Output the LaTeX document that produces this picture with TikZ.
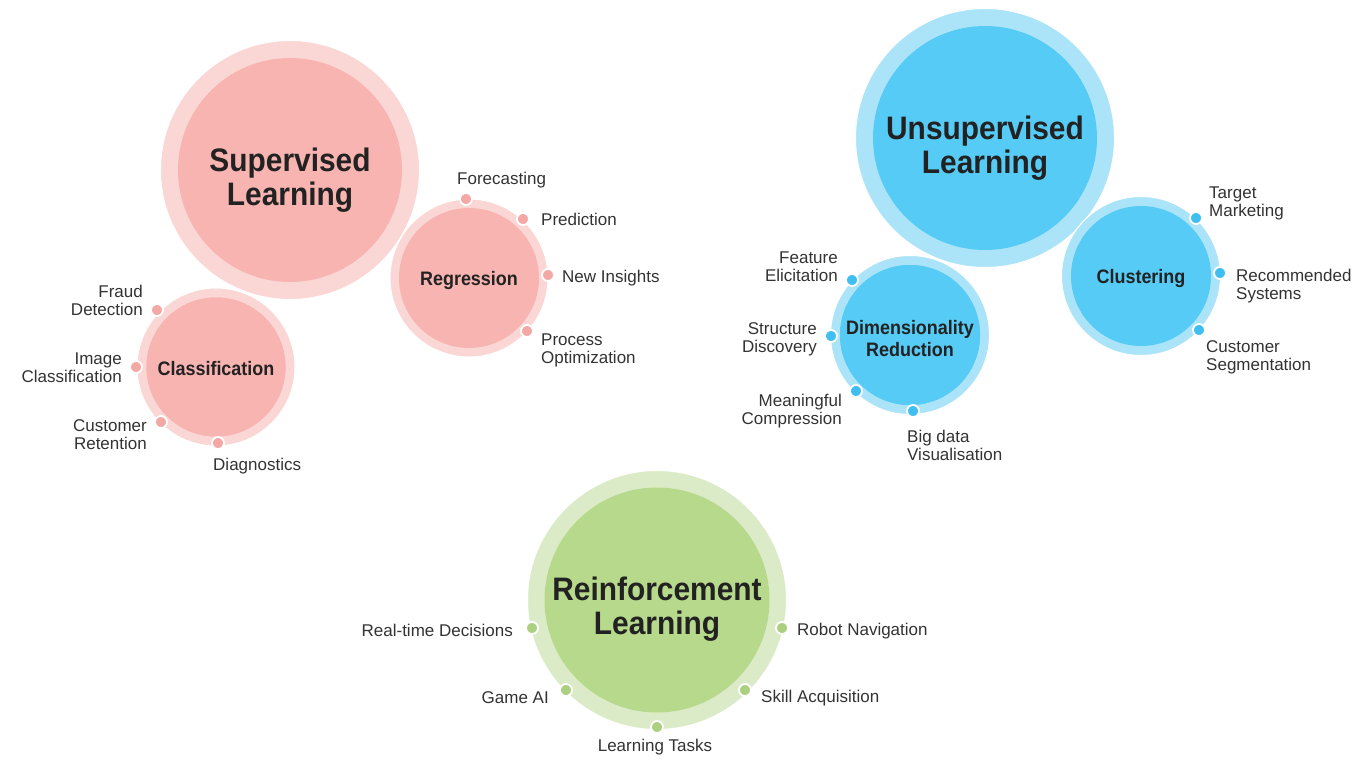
\documentclass[tikz,border=0pt]{standalone}
\usepackage{fontspec}
\setmainfont{Liberation Sans}
\newfontfamily\bigfont{Liberation Sans}[FakeStretch=0.92]
\newfontfamily\midfont{Liberation Sans}[FakeStretch=0.92]
\definecolor{pinkin}{HTML}{F7B4B0}
\definecolor{pinkout}{HTML}{FAD6D4}
\definecolor{pinkdot}{HTML}{F4A8A6}
\definecolor{bluein}{HTML}{56CBF5}
\definecolor{blueout}{HTML}{ABE4F8}
\definecolor{bluedot}{HTML}{3FBEF1}
\definecolor{greenin}{HTML}{B7D98B}
\definecolor{greenout}{HTML}{DCEBC7}
\definecolor{greendot}{HTML}{ABD07F}
\definecolor{txt}{HTML}{333333}
\definecolor{ttl}{HTML}{222222}
\tikzset{
  disc/.style={circle, inner sep=0pt, minimum size=#1},
  ring/.style={circle, inner sep=0pt, minimum size=#1, draw=white, line width=1pt},
  dotc/.style={circle, inner sep=0pt, minimum size=12pt, draw=white, line width=1.8pt, fill=#1},
  lbl/.style={inner sep=0pt, text=txt, font=\fontsize{17}{18}\selectfont},
  bigt/.style={inner sep=0pt, text=ttl, align=center, font=\bigfont\bfseries\fontsize{32.5}{33.5}\selectfont},
  midt/.style={inner sep=0pt, text=ttl, align=center, font=\midfont\bfseries\fontsize{19.5}{22}\selectfont},
}
\begin{document}
\begin{tikzpicture}[x=1pt,y=-1pt]
\fill[white] (0,0) rectangle (1372,762);
\useasboundingbox (0,0) rectangle (1372,762);

% ---------- Supervised ----------
\node[ring=158pt, fill=pinkout] (claO) at (216,367) {};
\node[disc=139pt, fill=pinkin] (claI) at (216,367) {};

\node[ring=259pt, fill=pinkout] (supO) at (290,170) {};
\node[disc=224pt, fill=pinkin] (supI) at (290,170) {};
\node[bigt] (supT) at (290,180) {Supervised\\Learning};

\node[ring=158pt, fill=pinkout] (regO) at (469,278) {};
\node[disc=140pt, fill=pinkin] (regI) at (469,278) {};
\node[midt] (regT) at (469,280) {Regression};

\fill[pinkin] (claI.center) circle[radius=69.5pt];
\node[midt] (claT) at (216,369) {Classification};

\node[dotc=pinkdot] (d1) at (466,199) {};
\node[dotc=pinkdot] (d2) at (523,219) {};
\node[dotc=pinkdot] (d3) at (548,275) {};
\node[dotc=pinkdot] (d4) at (527,331) {};
\node[dotc=pinkdot] (d5) at (157,310) {};
\node[dotc=pinkdot] (d6) at (136,367) {};
\node[dotc=pinkdot] (d7) at (161,422) {};
\node[dotc=pinkdot] (d8) at (218,443) {};

\node[lbl, anchor=west] (l1) at (457,180) {Forecasting};
\node[lbl, anchor=west] (l2) at (541,219) {Prediction};
\node[lbl, anchor=west] (l3) at (562,278) {New Insights};
\node[lbl, anchor=west, align=left] (l4) at (541,350) {Process\\Optimization};
\node[lbl, anchor=east, align=right] (l5) at (143,300) {Fraud\\Detection};
\node[lbl, anchor=east, align=right] (l6) at (122,368) {Image\\Classification};
\node[lbl, anchor=east, align=right] (l7) at (147,435) {Customer\\Retention};
\node[lbl, anchor=west] (l8) at (213,466) {Diagnostics};

% ---------- Unsupervised ----------
\node[ring=159pt, fill=blueout] (dimO) at (910,335) {};
\node[disc=140pt, fill=bluein] (dimI) at (910,335) {};

\node[ring=259pt, fill=blueout] (unsO) at (985,138) {};
\node[disc=224pt, fill=bluein] (unsI) at (985,138) {};
\node[bigt] (unsT) at (985,148) {Unsupervised\\Learning};

\node[ring=159pt, fill=blueout] (cluO) at (1141,276) {};
\node[disc=140pt, fill=bluein] (cluI) at (1141,276) {};
\node[midt] (cluT) at (1141,278) {Clustering};

\fill[bluein] (dimI.center) circle[radius=70pt];
\node[midt] (dimT) at (910,339) {Dimensionality\\Reduction};

\node[dotc=bluedot] (b1) at (852,280) {};
\node[dotc=bluedot] (b2) at (831,336) {};
\node[dotc=bluedot] (b3) at (856,391) {};
\node[dotc=bluedot] (b4) at (913,411) {};
\node[dotc=bluedot] (b5) at (1196,218) {};
\node[dotc=bluedot] (b6) at (1220,273) {};
\node[dotc=bluedot] (b7) at (1199,330) {};

\node[lbl, anchor=east, align=right] (m1) at (838,267) {Feature\\Elicitation};
\node[lbl, anchor=east, align=right] (m2) at (817,339) {Structure\\Discovery};
\node[lbl, anchor=east, align=right] (m3) at (842,411) {Meaningful\\Compression};
\node[lbl, anchor=west, align=left] (m4) at (907,445) {Big data\\Visualisation};
\node[lbl, anchor=west, align=left] (m5) at (1209,203) {Target\\Marketing};
\node[lbl, anchor=west, align=left] (m6) at (1236,286) {Recommended\\Systems};
\node[lbl, anchor=west, align=left] (m7) at (1206,357) {Customer\\Segmentation};

% ---------- Reinforcement ----------
\node[ring=259pt, fill=greenout] (reiO) at (657,600) {};
\node[disc=225pt, fill=greenin] (reiI) at (657,600) {};
\node[bigt] (reiT) at (657,609) {Reinforcement\\Learning};

\node[dotc=greendot] (g1) at (532,628) {};
\node[dotc=greendot] (g2) at (782,628) {};
\node[dotc=greendot] (g3) at (566,690) {};
\node[dotc=greendot] (g4) at (745,690) {};
\node[dotc=greendot] (g5) at (657,727) {};

\node[lbl, anchor=east] (r1) at (513,630) {Real-time Decisions};
\node[lbl, anchor=west] (r2) at (797,631) {Robot Navigation};
\node[lbl, anchor=east] (r3) at (549,698) {Game AI};
\node[lbl, anchor=west] (r4) at (761,698) {Skill Acquisition};
\node[lbl] (r5) at (655,747) {Learning Tasks};
\end{tikzpicture}
\end{document}
